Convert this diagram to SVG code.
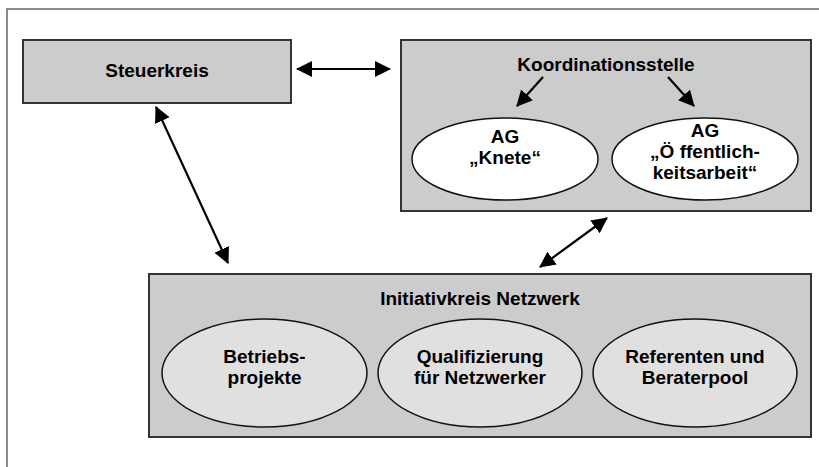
<svg xmlns="http://www.w3.org/2000/svg" width="819" height="467" viewBox="0 0 819 467">
  <defs>
    <marker id="ah" viewBox="0 0 16 16" refX="15" refY="8" markerWidth="16" markerHeight="16" markerUnits="userSpaceOnUse" orient="auto-start-reverse">
      <path d="M0,0 L16,8 L0,16 z" fill="#000"/>
    </marker>
    <style>
      .box { fill: #cccccc; stroke: #333333; stroke-width: 2; }
      .ell { fill: #e0e0e0; stroke: #111111; stroke-width: 1.5; }
      .ellw { fill: #ffffff; stroke: #111111; stroke-width: 1.5; }
      .t { font-family: "Liberation Sans", Arial, sans-serif; font-weight: bold; font-size: 19px; fill: #000; text-anchor: middle; }
      .ta { font-size: 19px; }
      .con { stroke: #000; stroke-width: 2.2; fill: none; }
    </style>
  </defs>
  <rect x="0" y="0" width="819" height="467" fill="#ffffff"/>
  <rect x="7" y="9" width="900" height="600" fill="none" stroke="#666666" stroke-width="1.5"/>

  <g id="steuerkreis">
    <rect class="box" x="23" y="40" width="268" height="63"/>
    <text class="t" x="157" y="77">Steuerkreis</text>
  </g>

  <g id="koordinationsstelle">
    <rect class="box" x="401" y="40" width="410" height="171"/>
    <text class="t" x="606" y="71">Koordinationsstelle</text>
  </g>

  <g id="ag-knete">
    <ellipse class="ellw" cx="505" cy="159" rx="93" ry="41"/>
    <text class="t ta" x="505" y="143">AG</text>
    <text class="t ta" x="505" y="164">„Knete“</text>
  </g>

  <g id="ag-oeffentlichkeitsarbeit">
    <ellipse class="ellw" cx="705" cy="159" rx="93" ry="41"/>
    <text class="t ta" x="705" y="137">AG</text>
    <text class="t ta" x="705" y="158">„Ö ffentlich-</text>
    <text class="t ta" x="705" y="179">keitsarbeit“</text>
  </g>

  <g id="initiativkreis">
    <rect class="box" x="149" y="274" width="662" height="163"/>
    <text class="t" x="480" y="305">Initiativkreis Netzwerk</text>
  </g>

  <g id="betriebsprojekte">
    <ellipse class="ell" cx="264.5" cy="373" rx="102.5" ry="54"/>
    <text class="t" x="264.5" y="363">Betriebs-</text>
    <text class="t" x="264.5" y="384">projekte</text>
  </g>

  <g id="qualifizierung">
    <ellipse class="ell" cx="480" cy="373" rx="102" ry="54"/>
    <text class="t" x="480" y="363">Qualifizierung</text>
    <text class="t" x="480" y="384">für Netzwerker</text>
  </g>

  <g id="referenten">
    <ellipse class="ell" cx="695" cy="373" rx="102" ry="54"/>
    <text class="t" x="695" y="363">Referenten und</text>
    <text class="t" x="695" y="384">Beraterpool</text>
  </g>

  <g id="connectors">
    <line class="con" x1="297" y1="69" x2="390" y2="69" marker-start="url(#ah)" marker-end="url(#ah)"/>
    <line class="con" x1="156" y1="107" x2="228" y2="263" marker-start="url(#ah)" marker-end="url(#ah)"/>
    <line class="con" x1="607" y1="218" x2="540" y2="267" marker-start="url(#ah)" marker-end="url(#ah)"/>
    <line class="con" x1="543" y1="77" x2="517" y2="106" marker-end="url(#ah)"/>
    <line class="con" x1="668" y1="77" x2="694" y2="106" marker-end="url(#ah)"/>
  </g>
</svg>
